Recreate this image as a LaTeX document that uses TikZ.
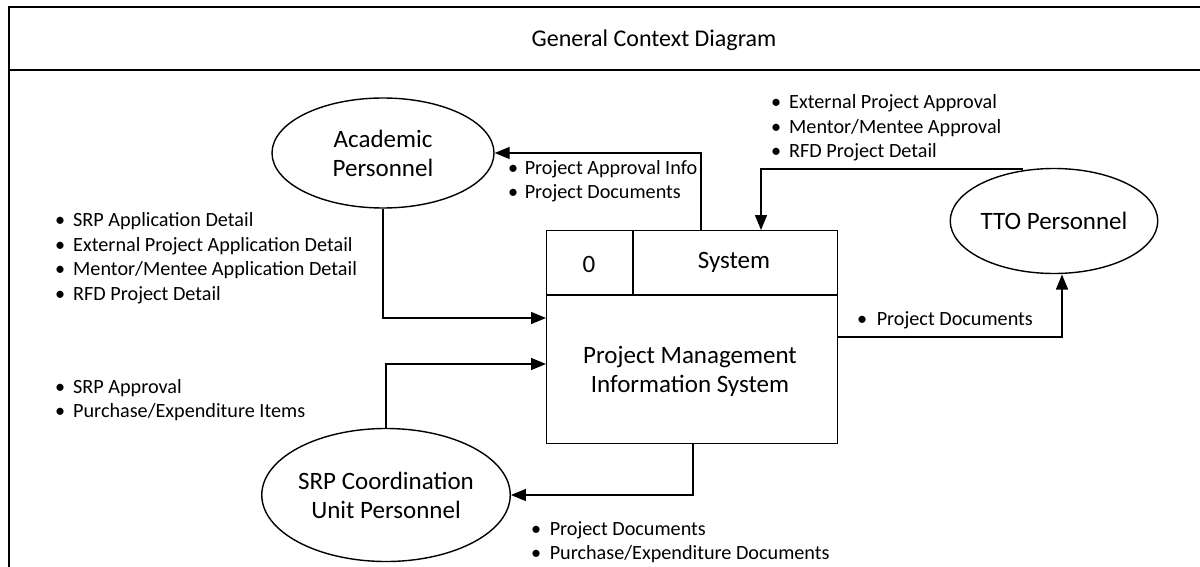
\documentclass[tikz,border=0pt]{standalone}
\usepackage{fontspec}
\setmainfont{Carlito}
\usetikzlibrary{arrows.meta,calc,shapes.geometric}
\newcommand\bul[1][18pt]{\makebox[#1][l]{\textbullet}}
\tikzset{
  x=1pt, y=-1pt,
  frameline/.style={line width=2pt, black},
  ent/.style={draw, ellipse, line width=1.4pt, inner sep=0pt, align=center,
    font=\fontsize{25}{29}\selectfont},
  proc/.style={draw, line width=1.4pt, inner sep=0pt, anchor=north west},
  boxtext/.style={inner sep=0pt, align=center, font=\fontsize{25}{29}\selectfont},
  lbl/.style={inner sep=0pt, align=left, anchor=west, font=\fontsize{20.2}{24.5}\selectfont},
  flow/.style={line width=1.4pt, -{Triangle[length=15pt,width=12pt]}},
}
\begin{document}
\begin{tikzpicture}
\useasboundingbox (0,0) rectangle (1200,567);
\clip (0,0) rectangle (1200,567);
% frame
\draw[frameline] (1310,7) -- (9,7) -- (9,580);
\draw[frameline] (9,70) -- (1310,70);
\node[font=\fontsize{24}{28}\selectfont, inner sep=0pt] (title) at (654,40) {General Context Diagram};

% entities
\node[ent, minimum width=222pt, minimum height=110pt] (acad) at (383,153) {Academic\\Personnel};
\node[ent, minimum width=206pt, minimum height=105pt] (tto) at (1054,221) {TTO Personnel};
\node[ent, minimum width=221pt, minimum height=133pt] (srp) at (386,495) {SRP Coordination\\Unit Personnel};

% process box
\node[proc, minimum width=291pt, minimum height=213pt] (pmis) at (546,230) {};
\draw[line width=1.4pt] (546,295) -- (837,295);
\draw[line width=1.4pt] (633,230) -- (633,295);
\node[boxtext] (num) at (589,264) {0};
\node[boxtext] (sys) at (734,262) {System};
\node[boxtext] (pname) at (690,371) {Project Management\\Information System};

% anchor coordinates
\coordinate (p1) at (701,230);
\coordinate (p2) at (761,230);
\coordinate (p3) at (693,443);
\coordinate (p4) at (546,318);
\coordinate (p5) at (546,364);
\coordinate (p6) at (837,337);
\coordinate (t1) at (1023,169);
\coordinate (t2) at (1062,274.5);

% flows
\draw[flow] (p1) |- (acad.east);
\draw[flow] (t1) -| (p2);
\draw[flow] (acad.south) |- (p4);
\draw[flow] (srp.north) |- (p5);
\draw[flow] (p3) |- (srp.east);
\draw[flow] (p6) -| (t2);

% labels
\node[lbl] (l1) at (55,258) {\bul SRP Application Detail\\\bul External Project Application Detail\\\bul Mentor/Mentee Application Detail\\\bul RFD Project Detail};
\node[lbl] (l2) at (55,400) {\bul SRP Approval\\\bul Purchase/Expenditure Items};
\node[lbl] (l3) at (508,181) {\bul[12pt] Project Approval Info\\\bul[12pt] Project Documents};
\node[lbl] (l4) at (771,128) {\bul External Project Approval\\\bul Mentor/Mentee Approval\\\bul RFD Project Detail};
\node[lbl] (l5) at (857,320) {\bul[15pt] Project Documents};
\node[lbl] (l6) at (531,542) {\bul[14pt] Project Documents\\\bul[14pt] Purchase/Expenditure Documents};
\end{tikzpicture}
\end{document}
